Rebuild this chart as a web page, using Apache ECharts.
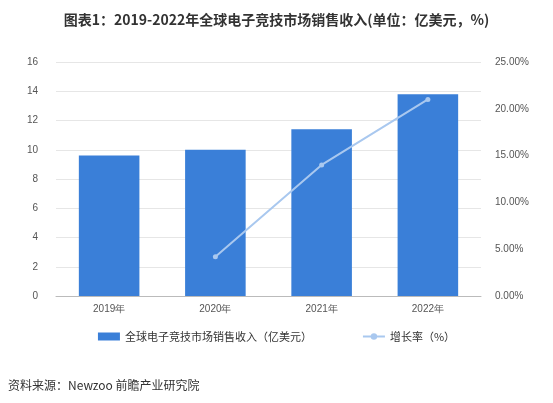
<!DOCTYPE html>
<html><head><meta charset="utf-8">
<script src="https://cdn.jsdelivr.net/npm/echarts@6/dist/echarts.min.js"></script>
<style>html,body{margin:0;padding:0;background:#fff}#c{width:553px;height:403px}</style>
</head><body><div id="c"></div>
<script>
const categories = ['2019年','2020年','2021年','2022年'];
const revenue = [9.6, 10.0, 11.4, 13.8];
const growth = [null, 4.2, 14.0, 21.0];
const chart = echarts.init(document.getElementById('c'));
chart.setOption({
  animation:false,
  title:{text:'图表1：2019-2022年全球电子竞技市场销售收入(单位：亿美元，%)',left:'center',top:8,
    textStyle:{fontSize:14,fontWeight:'bold',color:'#333',fontFamily:'Noto Sans CJK SC'}},
  grid:{left:56,right:72,top:62,bottom:107},
  legend:{bottom:56,itemGap:50,textStyle:{fontSize:11,color:'#333',fontFamily:'Noto Sans CJK SC'},
    data:[{name:'全球电子竞技市场销售收入（亿美元）',icon:'rect'},{name:'增长率（%）'}],itemWidth:22,itemHeight:8},
  graphic:[{type:'text',left:8,bottom:12,style:{text:'资料来源：Newzoo 前瞻产业研究院',fontSize:12,fill:'#333',fontFamily:'Noto Sans CJK SC'}}],
  xAxis:{type:'category',data:categories,axisTick:{show:false},axisLine:{lineStyle:{color:'#bbb'}},
    axisLabel:{color:'#555',fontSize:10}},
  yAxis:[{type:'value',min:0,max:16,interval:2,axisLabel:{color:'#555',fontSize:10,margin:18},
    splitLine:{lineStyle:{color:'#e6e6e6'}}},
    {type:'value',min:0,max:25,interval:5,axisLabel:{color:'#555',fontSize:10,margin:14,formatter:v=>v.toFixed(2)+'%'},splitLine:{show:false}}],
  series:[{name:'全球电子竞技市场销售收入（亿美元）',type:'bar',data:revenue,barWidth:'57%',itemStyle:{color:'#3a7fd8'}},
    {name:'增长率（%）',type:'line',yAxisIndex:1,data:growth,symbol:'circle',symbolSize:5,
     lineStyle:{color:'#a9c8ef',width:2},itemStyle:{color:'#a9c8ef'}}]
});
</script></body></html>
